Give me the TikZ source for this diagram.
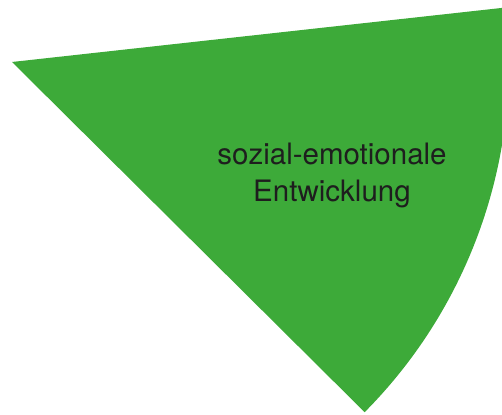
\documentclass[tikz,border=0pt]{standalone}
\usepackage{fontspec}
\setmainfont{TeX Gyre Heros}
\definecolor{sectorgreen}{RGB}{61,170,57}
\definecolor{labelink}{RGB}{30,30,30}
\begin{document}
\begin{tikzpicture}[x=1pt,y=1pt,
  sector/.style={fill=sectorgreen,draw=none},
  sectorlabel/.style={text=labelink,align=center,inner sep=0pt,
    font=\fontsize{29.5}{37}\selectfont}]
\useasboundingbox (0,0) rectangle (502,414);
\clip (0,0) rectangle (502,414);
% apex of the sector
\coordinate (apex) at (12,352);
\fill[sector] (apex) -- ++(-44.8:497) arc[start angle=-44.8,end angle=6.3,radius=497] -- cycle;
% label; the base anchor sits on the second line's baseline
\node[sectorlabel,anchor=base] (label) at (332,212) {sozial-emotionale\\Entwicklung};
\end{tikzpicture}
\end{document}
